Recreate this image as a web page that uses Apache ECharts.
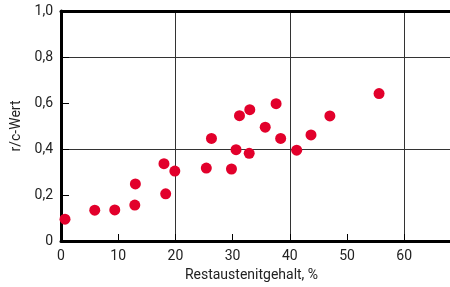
<!DOCTYPE html>
<html>
<head>
<meta charset="utf-8">
<script src="https://cdn.jsdelivr.net/npm/echarts@6/dist/echarts.min.js"></script>
<style>
  html, body { margin: 0; padding: 0; background: #fff; }
  #chart { width: 450px; height: 287px; }
</style>
</head>
<body>
<div id="chart"></div>
<script>
// Restaustenitgehalt in % und r/c-Wert
var restaustenit = [0.7, 5.9, 9.4, 12.9, 13.0, 18.0, 18.3, 19.9, 25.4, 26.3, 29.8,
    30.6, 32.9, 31.2, 33.0, 35.7, 37.6, 38.4, 41.2, 43.7, 47.0, 55.6];
var rcWert = [0.095, 0.134, 0.135, 0.156, 0.248, 0.336, 0.205, 0.304, 0.317, 0.446, 0.313,
    0.397, 0.381, 0.545, 0.571, 0.495, 0.597, 0.446, 0.395, 0.461, 0.544, 0.641];
var xTicks = [0, 10, 20, 30, 40, 50, 60];
var yTicks = [0, 0.2, 0.4, 0.6, 0.8, 1.0];

var points = restaustenit.map(function (x, i) {
    return [x, rcWert[i]];
});

var fontFam = 'Roboto, "DejaVu Sans", sans-serif';
var txtColor = '#222';

var chart = echarts.init(document.getElementById('chart'));
var option = {
    animation: false,
    grid: { left: 61, top: 11, right: 0, bottom: 45 },
    xAxis: [{
        type: 'value',
        position: 'bottom',
        min: 0,
        max: 68,
        interval: 10,
        name: 'Restaustenitgehalt, %',
        nameLocation: 'middle',
        nameGap: 27,
        nameTextStyle: { color: txtColor, fontSize: 14, fontFamily: fontFam, padding: [0, 8, 0, 0] },
        axisLine: { show: true, onZero: false, lineStyle: { color: '#000', width: 3 } },
        axisTick: { show: true, inside: true, length: 7, lineStyle: { color: '#000', width: 1 } },
        axisLabel: {
            color: txtColor, fontSize: 14, fontFamily: fontFam, margin: 8,
            showMaxLabel: false,
            formatter: function (v) { return xTicks.indexOf(v) >= 0 ? String(v) : ''; }
        },
        splitLine: { show: false }
    }, {
        type: 'value',
        position: 'top',
        min: 0,
        max: 68,
        interval: 20,
        axisLine: { show: true, onZero: false, lineStyle: { color: '#000', width: 3 } },
        axisTick: { show: false },
        axisLabel: { show: false },
        splitLine: { show: true, lineStyle: { color: '#333', width: 1 } }
    }],
    yAxis: [{
        type: 'value',
        position: 'left',
        min: 0,
        max: 1,
        interval: 0.2,
        name: 'r/c-Wert',
        nameLocation: 'middle',
        nameGap: 38,
        nameTextStyle: { color: txtColor, fontSize: 14, fontFamily: fontFam },
        axisLine: { show: true, onZero: false, lineStyle: { color: '#000', width: 3 } },
        axisTick: { show: true, inside: true, length: 8, lineStyle: { color: '#000', width: 1 } },
        axisLabel: {
            color: txtColor, fontSize: 14, fontFamily: fontFam, margin: 8,
            formatter: function (v) {
                var t = Math.round(v * 10) / 10;
                if (yTicks.indexOf(t) < 0) return '';
                return t === 0 ? '0' : t.toFixed(1).replace('.', ',');
            }
        },
        splitLine: { show: false }
    }, {
        type: 'value',
        position: 'left',
        min: 0,
        max: 1,
        interval: 0.4,
        axisLine: { show: false },
        axisTick: { show: false },
        axisLabel: { show: false },
        splitLine: { show: true, lineStyle: { color: '#333', width: 1 } }
    }],
    series: [{
        type: 'scatter',
        xAxisIndex: 0,
        yAxisIndex: 0,
        symbol: 'circle',
        symbolSize: 11,
        itemStyle: { color: '#e2002b', opacity: 1 },
        data: points
    }]
};
chart.setOption(option);
</script>
</body>
</html>
